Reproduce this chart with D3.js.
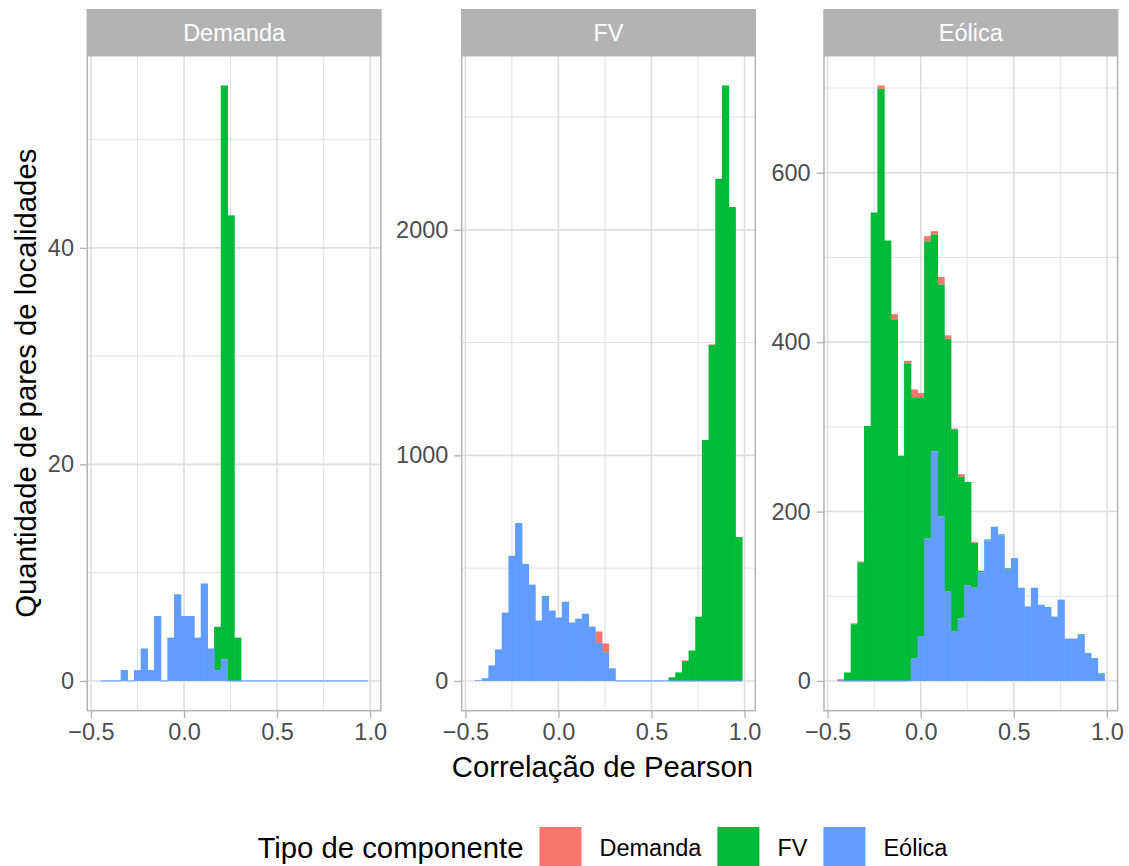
<!DOCTYPE html>
<html><head><meta charset="utf-8">
<script src="https://cdn.jsdelivr.net/npm/d3@7"></script>
<style>
body{margin:0;background:#fff}
svg{display:block}
text{font-family:"Liberation Sans",Arial,Helvetica,sans-serif}
</style>
</head><body>
<svg id="chart" width="1129" height="866"></svg>
<script>
// ---------- data ----------
const binStart = -0.448;
const binWidth = 0.03585;
const nBins = 40;
const facets = ["Demanda", "FV", "Eólica"];
const components = ["Demanda", "FV", "Eólica"];
const componentColors = ["#F8766D", "#00BA38", "#619CFF"];
const xMajorTicks = [-0.5, 0, 0.5, 1.0];
const xMinorTicks = [-0.25, 0.25, 0.75];
const yMajorTicks = [[0, 20, 40], [0, 1000, 2000], [0, 200, 400, 600]];
const yMinorTicks = [[10, 30, 50], [500, 1500, 2500], [100, 300, 500, 700]];

// facet "Demanda"
const demandaDemanda = [0,0,0,0,0,0,0,0,0,0, 0,0,0,0,0,0,0,0,0,0, 0,0,0,0,0,0,0,0,0,0, 0,0,0,0,0,0,0,0,0,0];
const demandaFV      = [0,0,0,0,0,0,0,0,0,0, 0,0,0,0,0,0,0,4,53,43, 4,0,0,0,0,0,0,0,0,0, 0,0,0,0,0,0,0,0,0,0];
const demandaEolica  = [0,0,0,1,0,1,3,1,6,0, 4,8,6,6,4,9,3,1,2,0, 0,0,0,0,0,0,0,0,0,0, 0,0,0,0,0,0,0,0,0,0];
// facet "FV"
const fvDemanda = [0,0,0,0,0,0,0,0,0,0, 0,0,0,0,0,0,0,0,51,40, 0,0,0,0,0,0,0,0,0,0, 0,3,0,0,0,3,0,0,0,0];
const fvFV      = [0,0,0,0,0,0,0,0,0,0, 4,0,0,0,0,0,0,0,0,2, 0,0,0,0,0,0,0,0,0,16, 38,88,135,285,1068,1489,2226,2640,2101,638];
const fvEolica  = [3,12,69,140,303,555,700,519,427,268, 373,312,281,351,259,276,298,241,168,124, 56,0,0,0,0,0,0,0,0,0, 0,0,0,0,0,0,0,0,0,0];
// facet "Eólica"
const eolicaDemanda = [2,0,1,1,0,0,4,0,6,0, 3,9,6,6,4,9,4,1,3,0, 1,0,0,0,0,0,0,0,0,0, 0,0,0,0,0,0,0,0,0,0];
const eolicaFV      = [0,10,67,140,301,553,699,520,427,266, 375,308,281,351,256,274,298,238,167,122, 53,2,1,0,1,1,0,0,0,0, 0,1,0,0,0,0,1,0,0,1];
const eolicaEolica  = [0,0,0,0,0,0,0,0,0,0, 0,27,53,168,271,194,106,59,74,113, 110,128,166,182,172,132,145,110,88,110, 90,86,76,96,50,50,54,33,27,8];

const facetSeries = [
  [demandaDemanda, demandaFV, demandaEolica],
  [fvDemanda, fvFV, fvEolica],
  [eolicaDemanda, eolicaFV, eolicaEolica]
];

// ---------- layout ----------
const svg = d3.select("#chart");
const panelLefts = [87.3, 461.7, 824];
const panelW = 293.6;
const panelTop = 55.7, panelBottom = 710.7;
const stripTop = 9;
const tickFont = 23.5, titleFont = 29.3;

const binEnd = binStart + nBins * binWidth;
const R = binEnd - binStart;

facets.forEach((facet, fi) => {
  const x0 = panelLefts[fi];
  const g = svg.append("g");
  const x = d3.scaleLinear()
    .domain([binStart - 0.05 * R, binEnd + 0.05 * R])
    .range([x0, x0 + panelW]);

  const series = facetSeries[fi];
  const rows = d3.range(nBins).map(i => {
    const r = {i: i, x0: binStart + i * binWidth, x1: binStart + (i + 1) * binWidth};
    components.forEach((c, ci) => r[c] = series[ci][i]);
    return r;
  });
  // stacking: Eólica bottom, FV middle, Demanda top (ggplot order)
  const stack = d3.stack().keys(["Eólica", "FV", "Demanda"])(rows);
  const maxTot = d3.max(rows, r => r["Demanda"] + r["FV"] + r["Eólica"]);
  const y = d3.scaleLinear()
    .domain([-0.05 * maxTot, 1.05 * maxTot])
    .range([panelBottom, panelTop]);

  g.append("rect").attr("x", x0).attr("y", panelTop).attr("width", panelW)
    .attr("height", panelBottom - panelTop).attr("fill", "#fff");

  // minor grid
  xMinorTicks.forEach(t => g.append("line")
    .attr("x1", x(t)).attr("x2", x(t)).attr("y1", panelTop).attr("y2", panelBottom)
    .attr("stroke", "#dedede").attr("stroke-width", 0.9));
  yMinorTicks[fi].forEach(t => g.append("line")
    .attr("x1", x0).attr("x2", x0 + panelW).attr("y1", y(t)).attr("y2", y(t))
    .attr("stroke", "#dedede").attr("stroke-width", 0.9));
  // major grid
  xMajorTicks.forEach(t => g.append("line")
    .attr("x1", x(t)).attr("x2", x(t)).attr("y1", panelTop).attr("y2", panelBottom)
    .attr("stroke", "#dedede").attr("stroke-width", 1.6));
  yMajorTicks[fi].forEach(t => g.append("line")
    .attr("x1", x0).attr("x2", x0 + panelW).attr("y1", y(t)).attr("y2", y(t))
    .attr("stroke", "#dedede").attr("stroke-width", 1.6));

  // bars: draw order Demanda, FV, Eólica; only non-zero counts
  ["Demanda", "FV", "Eólica"].forEach(key => {
    const layer = stack.find(s => s.key === key);
    const col = componentColors[components.indexOf(key)];
    g.append("g").selectAll("rect").data(layer.filter(d => d[1] > d[0])).join("rect")
      .attr("x", d => x(d.data.x0))
      .attr("width", d => x(d.data.x1) - x(d.data.x0) + 0.6)
      .attr("y", d => y(d[1]))
      .attr("height", d => y(d[0]) - y(d[1]))
      .attr("fill", col);
  });
  // zero-count Eólica bins render as a thin baseline line
  const eolLayer = stack.find(s => s.key === "Eólica");
  g.append("g").selectAll("rect").data(eolLayer.filter(d => d[1] === d[0])).join("rect")
    .attr("x", d => x(d.data.x0))
    .attr("width", d => x(d.data.x1) - x(d.data.x0) + 0.6)
    .attr("y", d => y(d[1]) - 0.5)
    .attr("height", 1)
    .attr("fill", componentColors[2]);

  // panel border
  g.append("rect").attr("x", x0).attr("y", panelTop).attr("width", panelW)
    .attr("height", panelBottom - panelTop).attr("fill", "none")
    .attr("stroke", "#b3b3b3").attr("stroke-width", 1.5);

  // strip
  g.append("rect").attr("x", x0 - 0.75).attr("y", stripTop).attr("width", panelW + 1.5)
    .attr("height", panelTop - stripTop).attr("fill", "#b3b3b3");
  g.append("text").attr("x", x0 + panelW / 2).attr("y", (stripTop + panelTop) / 2)
    .attr("dy", "0.35em").attr("text-anchor", "middle")
    .attr("font-size", tickFont).attr("fill", "#fff").text(facet);

  // x axis
  const xAxis = g.append("g").attr("transform", `translate(0,${panelBottom})`)
    .call(d3.axisBottom(x).tickValues(xMajorTicks).tickSize(7.3).tickPadding(5)
      .tickFormat(d => d3.format(".1f")(d).replace("-", "\u2212")));
  xAxis.select(".domain").remove();
  xAxis.selectAll(".tick line").attr("stroke", "#b3b3b3").attr("stroke-width", 1.4);
  xAxis.selectAll(".tick text").attr("font-size", tickFont).attr("fill", "#4d4d4d")
    .attr("font-family", "Liberation Sans, Arial, sans-serif").attr("dy", "0.72em");

  // y axis
  const yAxis = g.append("g").attr("transform", `translate(${x0},0)`)
    .call(d3.axisLeft(y).tickValues(yMajorTicks[fi]).tickSize(7.3).tickPadding(6)
      .tickFormat(d3.format("d")));
  yAxis.select(".domain").remove();
  yAxis.selectAll(".tick line").attr("stroke", "#b3b3b3").attr("stroke-width", 1.4);
  yAxis.selectAll(".tick text").attr("font-size", tickFont).attr("fill", "#4d4d4d")
    .attr("font-family", "Liberation Sans, Arial, sans-serif");
});

// axis titles
const plotCenter = (panelLefts[0] + panelLefts[2] + panelW) / 2;
svg.append("text").attr("x", plotCenter).attr("y", 777).attr("text-anchor", "middle")
  .attr("font-size", titleFont).attr("fill", "#000").text("Correlação de Pearson");
svg.append("text").attr("transform", `translate(36,${(panelTop + panelBottom) / 2}) rotate(-90)`)
  .attr("text-anchor", "middle").attr("font-size", titleFont).attr("fill", "#000")
  .text("Quantidade de pares de localidades");

// legend
const legendY = 848;
const keySize = 42;
const leg = svg.append("g");
const title = leg.append("text").attr("y", legendY).attr("dy", "0.35em")
  .attr("font-size", titleFont).attr("fill", "#000").text("Tipo de componente");
const titleW = title.node().getComputedTextLength();
const items = components.map((c, ci) => {
  const t = leg.append("text").attr("y", legendY).attr("dy", "0.35em")
    .attr("font-size", tickFont).attr("fill", "#000").text(c);
  return {c, ci, t, w: t.node().getComputedTextLength()};
});
const gapTitle = 16, gapKeyLabel = 18, gapItem = 16;
let total = titleW + gapTitle;
items.forEach((it, k) => { total += keySize + gapKeyLabel + it.w + (k < items.length - 1 ? gapItem : 0); });
let cx = plotCenter - total / 2;
title.attr("x", cx);
cx += titleW + gapTitle;
items.forEach(it => {
  leg.append("rect").attr("x", cx).attr("y", legendY - keySize / 2).attr("width", keySize)
    .attr("height", keySize).attr("fill", componentColors[it.ci]);
  cx += keySize + gapKeyLabel;
  it.t.attr("x", cx);
  cx += it.w + gapItem;
});
</script>
</body></html>
